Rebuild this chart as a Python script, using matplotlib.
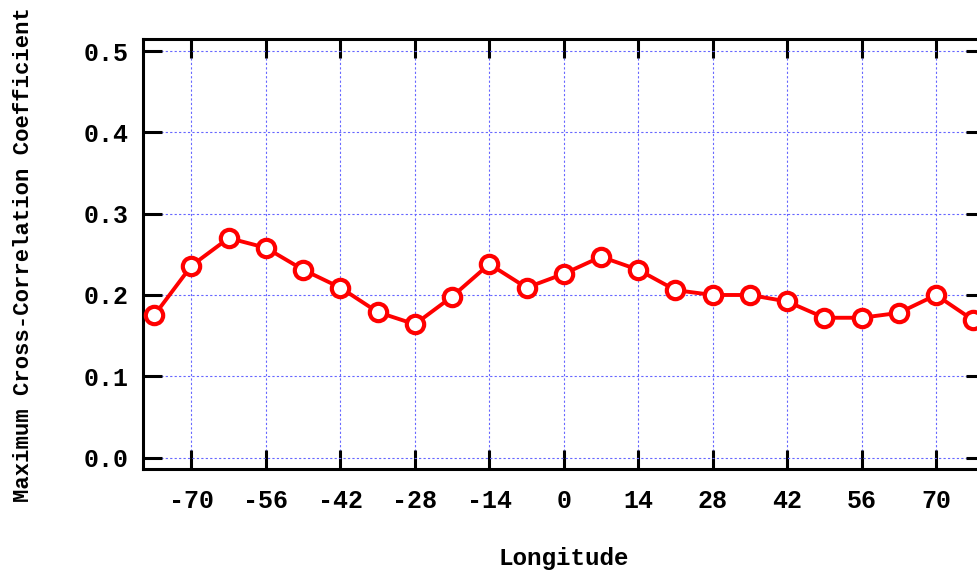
import matplotlib
matplotlib.use("Agg")
import matplotlib.pyplot as plt
import numpy as np

longitude = [-77, -70, -63, -56, -49, -42, -35, -28, -21, -14, -7, 0,
             7, 14, 21, 28, 35, 42, 49, 56, 63, 70, 77]
max_xcorr = [0.175, 0.236, 0.270, 0.258, 0.231, 0.209, 0.179, 0.164, 0.198,
             0.238, 0.209, 0.226, 0.247, 0.231, 0.206, 0.200, 0.200, 0.192,
             0.172, 0.172, 0.178, 0.200, 0.169]
xticks = [-70, -56, -42, -28, -14, 0, 14, 28, 42, 56, 70]
yticks = [0.0, 0.1, 0.2, 0.3, 0.4, 0.5]
yticklabels = ["0.0", "0.1", "0.2", "0.3", "0.4", "0.5"]

plt.rcParams['font.family'] = ['Liberation Mono', 'DejaVu Sans Mono']
plt.rcParams['font.weight'] = 'bold'

fig = plt.figure(figsize=(9.77, 5.77), dpi=100)
ax = fig.add_axes([0.1459, 0.1867, 1.0082 - 0.1459, 0.9319 - 0.1867])

ax.plot(longitude, max_xcorr, color='red', lw=2.8, marker='o', ms=12.5,
        mfc='white', mec='red', mew=3.0, zorder=3, clip_on=False)

ax.set_xlim(-79.2, 79.2)
ax.set_ylim(-0.0143, 0.5144)
ax.set_xticks(xticks)
ax.set_xticklabels([str(t) for t in xticks])
ax.set_yticks(yticks)
ax.set_yticklabels(yticklabels)

ax.grid(True, color=(0.4, 0.4, 1.0), ls=(0, (2, 2)), lw=0.8)
ax.tick_params(axis='both', direction='in', length=14, width=2.2,
               top=True, right=True, labelsize=18, color='black')
ax.tick_params(axis='x', pad=14)
ax.tick_params(axis='y', pad=10)
for lab in ax.get_xticklabels() + ax.get_yticklabels():
    lab.set_fontweight('bold')
for s in ax.spines.values():
    s.set_linewidth(2.2)

ax.set_xlabel('Longitude', fontsize=17.5, fontweight='bold', labelpad=25)
ax.set_ylabel('Maximum Cross-Correlation Coefficient', fontsize=16,
              fontweight='bold', labelpad=36)

fig.savefig('out.png', dpi=100)
